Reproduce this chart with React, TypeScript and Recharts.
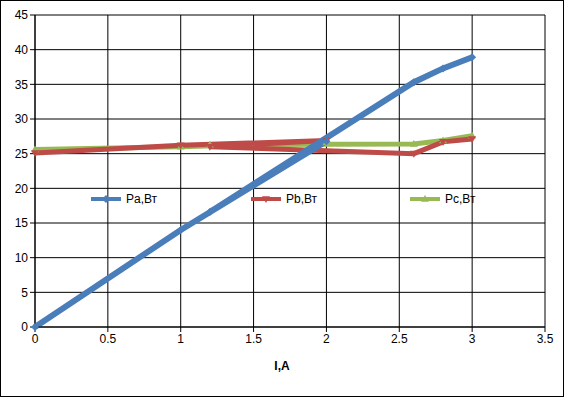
import { LineChart, Line, XAxis, YAxis, CartesianGrid, Label } from 'recharts';

// current values in measurement order (not sorted, the lines double back)
const currents = [0, 1, 2, 1.2, 2.6, 2.8, 3];
const paValues = [0, 14.0, 26.8, 16.6, 35.3, 37.3, 38.9];
const pbValues = [25.1, 26.2, 26.9, 26.0, 25.0, 26.7, 27.1];
const pcValues = [25.6, 26.0, 26.6, 26.3, 26.4, 26.9, 27.6];

const xTicks = [0, 0.5, 1, 1.5, 2, 2.5, 3, 3.5];
const yTicks = [0, 5, 10, 15, 20, 25, 30, 35, 40, 45];

const series = [
  { key: 'pa', name: 'Pa,Вт', color: '#4a7ebb', shape: 'diamond', width: 6 },
  { key: 'pb', name: 'Pb,Вт', color: '#be4b48', shape: 'down', width: 5 },
  { key: 'pc', name: 'Pc,Вт', color: '#98b954', shape: 'up', width: 5 },
];

const data = currents.map((x, i) => ({ x, pa: paValues[i], pb: pbValues[i], pc: pcValues[i] }));

const font = "'Liberation Sans', Arial, sans-serif";

function markerPath(shape: string, cx: number, cy: number, r: number) {
  if (shape === 'diamond') return `M${cx - r},${cy} L${cx},${cy - r} L${cx + r},${cy} L${cx},${cy + r} Z`;
  if (shape === 'down') return `M${cx - r},${cy - r * 0.7} L${cx + r},${cy - r * 0.7} L${cx},${cy + r} Z`;
  return `M${cx - r},${cy + r * 0.7} L${cx + r},${cy + r * 0.7} L${cx},${cy - r} Z`;
}

const makeDot = (shape: string, color: string) => (props: any) => {
  const { cx, cy, index } = props;
  if (cx == null || cy == null) return <g key={index} />;
  return <path key={index} d={markerPath(shape, cx, cy, 4)} fill={color} />;
};

// legend sits inside the plot area like the Excel original
const legendX = [91, 251, 410];

const InPlotLegend = () => (
  <svg width={565} height={20} style={{ position: 'absolute', left: -1, top: 189, overflow: 'visible' }}>
    {series.map((s, i) => (
      <g key={s.key}>
        <line x1={legendX[i]} x2={legendX[i] + 30} y1={9} y2={9} stroke={s.color} strokeWidth={4} />
        <path d={markerPath(s.shape, legendX[i] + 15, 9, 4)} fill={s.color} />
        <text x={legendX[i] + 35} y={13} fontSize={12} fill="#000" fontFamily={font}>
          {s.name}
        </text>
      </g>
    ))}
  </svg>
);

export default function App() {
  const tick = { fontSize: 12, fill: '#000', fontFamily: font };
  return (
    <div
      style={{
        position: 'absolute',
        left: 0,
        top: 0,
        width: 564,
        height: 397,
        border: '1px solid #000',
        boxSizing: 'border-box',
        background: '#fff',
      }}
    >
      <div style={{ position: 'absolute', left: -1, top: -1 }}>
        <LineChart width={565} height={398} data={data} margin={{ top: 15, right: 20, left: 0, bottom: 16 }}>
          <CartesianGrid stroke="#000" strokeWidth={1} />
          <XAxis
            dataKey="x"
            type="number"
            domain={[0, 3.5]}
            ticks={xTicks}
            tick={tick}
            tickLine={{ stroke: '#000' }}
            axisLine={{ stroke: '#000' }}
            tickSize={5}
            height={55}
          >
            <Label
              value="I,A"
              position="insideBottom"
              offset={12}
              dx={-8}
              style={{ fontSize: 12, fontWeight: 'bold', fill: '#000', fontFamily: font }}
            />
          </XAxis>
          <YAxis
            type="number"
            domain={[0, 45]}
            ticks={yTicks}
            tick={tick}
            tickLine={{ stroke: '#000' }}
            axisLine={{ stroke: '#000' }}
            tickSize={5}
            width={35}
          />
          {[...series].reverse().map((s) => (
            <Line
              key={s.key}
              type="linear"
              dataKey={s.key}
              name={s.name}
              stroke={s.color}
              strokeWidth={s.width}
              dot={makeDot(s.shape, s.color)}
              activeDot={false}
              isAnimationActive={false}
            />
          ))}
        </LineChart>
      </div>
      <InPlotLegend />
    </div>
  );
}
